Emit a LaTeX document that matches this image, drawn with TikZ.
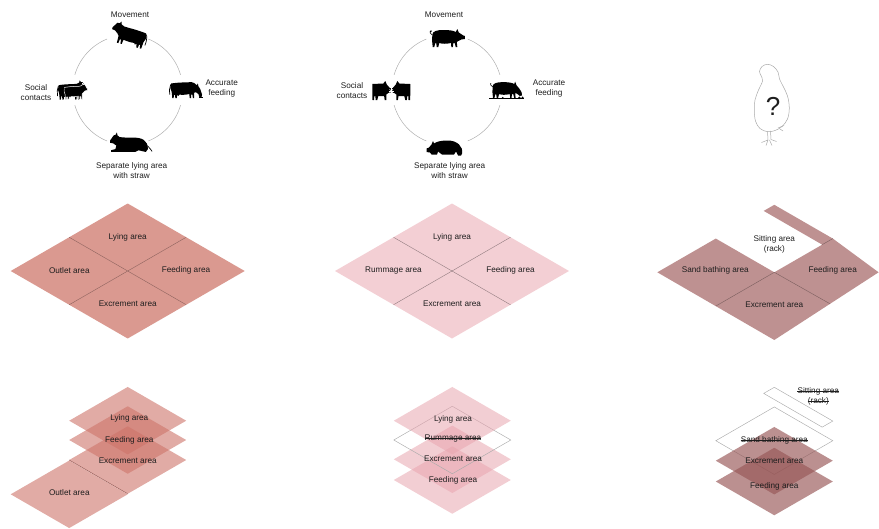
\documentclass[tikz,border=0pt]{standalone}
\usepackage{fontspec}
\setmainfont{Liberation Sans}
\usetikzlibrary{calc}

\definecolor{cowplan}{RGB}{218,153,144}
\definecolor{cowlayer}{RGB}{205,115,105}
\definecolor{pigplan}{RGB}{243,207,212}
\definecolor{piglayer}{RGB}{232,165,175}
\definecolor{henplan}{RGB}{190,145,145}
\definecolor{henlayer}{RGB}{150,85,85}
\definecolor{ink}{RGB}{30,30,30}
\definecolor{ringgray}{RGB}{175,175,175}
\definecolor{outlinegray}{RGB}{170,170,170}

% one quarter tile of the isometric floor plan, centred on (#2,#3)
\newcommand{\isotile}[3]{\path[#1] (#2-58.5,#3) -- (#2,#3-33.75) -- (#2+58.5,#3) -- (#2,#3+33.75) -- cycle;}
% crossed-out label: a line through the named node
\newcommand{\strikenode}[1]{\draw[ink, line width=0.45pt] (#1.west) -- (#1.east);}

% ---- animal silhouettes, drawn around (0,0), y pointing down ----
\newcommand{\cowlegs}{%
  -- (10,10) -- (8.6,10) -- (8,6) -- (6.8,6) -- (6.6,10) -- (5.2,10) -- (4.6,5.5)
  .. controls (0,6.5) and (-4,6.5) .. (-6,6) -- (-7,7.5) -- (-8.5,6.5)
  -- (-9,10) -- (-10.4,10) -- (-11,6.5) -- (-12,6.5) -- (-12.4,10) -- (-13.8,10)
  -- (-14.5,3) -- (-16,-1) -- cycle}
\newcommand{\cowstanding}[1][]{%
  \fill[#1] (-15,-6) .. controls (-5,-7.5) and (2,-7) .. (7,-7.5)
    -- (10,-9) -- (10.5,-11.5) -- (12,-9.5) -- (14,-9.5) -- (17.5,-4) -- (17.5,-2)
    -- (14.5,-1.5) -- (11.5,1) -- (10,3) \cowlegs;
  \draw[line width=0.7] (-15.5,-5) .. controls (-17,-2) and (-17,2) .. (-16.5,6);}
\newcommand{\cowgrazing}[1][]{%
  \fill[#1] (-15,-6) .. controls (-5,-7.5) and (2,-7) .. (7,-7.5)
    -- (10,-6.5) -- (13,-4) -- (14,-6) -- (14.5,-3) -- (16.5,0) -- (18.5,6)
    -- (18,9) -- (15.8,9) -- (14.5,5.5) -- (12,3.5) -- (10,4) \cowlegs;
  \draw[line width=0.7] (-15.5,-5) .. controls (-17,-2) and (-17,2) .. (-16.5,6);
  \fill (15,9) rectangle (20,10);}
\newcommand{\cowlying}{%
  \fill (-18,4) .. controls (-18,-4) and (-12,-6) .. (-4,-6)
    .. controls (2,-6) and (6,-6) .. (9,-6.5) -- (11,-8) -- (11.5,-10.5) -- (13,-8.2)
    -- (14.5,-8) -- (18,-3.5) -- (18,-1.5) -- (15,-1) -- (12,1) -- (13,4) -- (17,5)
    -- (17,6.5) -- (-6,6.5) -- (-9,5) -- (-16,6.5) -- cycle;
  \draw[line width=0.7] (-17.5,1) .. controls (-20,3) and (-21,5) .. (-22,6);}
\newcommand{\pigbody}{%
  (-14,-3) .. controls (-14,-7) and (-9,-8) .. (-3,-8)
  .. controls (3,-8) and (7,-7.5) .. (9.5,-6)}
\newcommand{\piglegs}{%
  -- (11,9) -- (9.4,9) -- (8.4,5) -- (7,5.2) -- (6.6,9) -- (5,9) -- (4.8,5)
  .. controls (0,6) and (-4,6) .. (-7,5) -- (-8,9) -- (-9.6,9) -- (-10,5.5)
  -- (-11,5) -- (-12,9) -- (-13.6,9) -- (-14.2,3) -- cycle}
\newcommand{\pigwalking}{%
  \fill \pigbody -- (11,-9) -- (12.5,-5.5) -- (17,-2.5) -- (18.5,-2) -- (18.5,1)
    -- (15,1.5) -- (12,3) -- (10.5,4) \piglegs;
  \draw[line width=0.6] (-14,-3) .. controls (-16,-4) and (-17,-6) .. (-16,-7)
    .. controls (-15,-8) and (-14,-6.5) .. (-15.5,-6);}
\newcommand{\pigeating}{%
  \fill \pigbody -- (10.5,-8.5) -- (12,-4.5) -- (15,-1) -- (17.5,3) -- (18,6.5)
    -- (15.5,7) -- (12.5,4.5) -- (10.5,4) \piglegs;
  \draw[line width=0.6] (-14,-3) .. controls (-16,-4) and (-17,-6) .. (-16,-7);
  \fill (-18,9) rectangle (20,10.5);
  \fill (15,9) circle (1.4) (18.5,8.8) circle (1.2) (-3,9) circle (1);}
\newcommand{\piglying}{%
  \fill (-17,6) .. controls (-18.5,-1) and (-12,-7) .. (-3,-7)
    .. controls (4,-7) and (8,-6) .. (11,-4) -- (12,-6.5) -- (13.5,-3) -- (16,0)
    -- (18.5,1) -- (18.5,4.5) -- (15,5) -- (13.5,7) -- (8,7) -- (7,4) -- (3,7)
    -- (-9,7) -- (-11,4) -- (-13,8) -- (-16,8) -- cycle;}
\newcommand{\pigfront}{%
  \fill (-19,-7) -- (-8,-7.5) -- (-6,-10) -- (-4.5,-6.5) -- (-1.5,-3) -- (0,-2.5)
    -- (0,1.5) -- (-3,2) -- (-5,3.5) -- (-5,9) -- (-6.6,9) -- (-7.2,5) -- (-13,5)
    -- (-14,9) -- (-15.6,9) -- (-16,5) -- (-17,5) -- (-17.2,9) -- (-18.8,9) -- (-19,3) -- cycle;}

\begin{document}
\begin{tikzpicture}[x=1pt,y=-1pt,
  lbl/.style={font=\fontsize{8.2}{10}\selectfont, text=ink, align=center, inner sep=0pt},
  ring/.style={draw=ringgray, line width=0.5pt},
  seam/.style={line width=0.4pt},
  ghost/.style={draw=outlinegray, line width=0.45pt},
  cowlay/.style={fill=cowlayer, fill opacity=0.6},
  piglay/.style={fill=piglayer, fill opacity=0.55},
  henlay/.style={fill=henlayer, fill opacity=0.65}]
\useasboundingbox (0,0) rectangle (879,528);
\clip (0,0) rectangle (879,528);

% ================= cattle: needs ring =================
\coordinate (cowC) at (127.7,90);
\coordinate (cowMove) at (129.5,35.5);
\coordinate (cowFeed) at (185,89);
\coordinate (cowSoc) at (73.5,91.5);
\coordinate (cowLie) at (129,144.5);
\foreach \a/\b in {16/68,112/164,196/248,292/344}
  \draw[ring] (cowC) ++(\a:55) arc[start angle=\a, end angle=\b, radius=55];
\begin{scope}[shift={(cowMove)}, rotate=-14, xscale=-1.05]
  \cowstanding
\end{scope}
\begin{scope}[shift={(cowFeed)}, scale=0.92]
  \cowgrazing
\end{scope}
\begin{scope}[shift={(cowSoc)}, xscale=0.82, yscale=0.9]
  \begin{scope}[shift={(-3,-1)}] \cowstanding \end{scope}
  \begin{scope}[shift={(2,0.5)}, scale=0.85] \cowstanding[draw=white, line width=0.5] \end{scope}
\end{scope}
\begin{scope}[shift={(cowLie)}, xscale=-1.05, yscale=1.15]
  \cowlying
\end{scope}
\node[lbl] (cowTMove) at (130,15) {Movement};
\node[lbl] (cowTSoc) at (36,92.7) {Social\\contacts};
\node[lbl] (cowTFeed) at (221.7,89) {Accurate\\feeding};
\node[lbl] (cowTLie) at (131.7,170.7) {Separate lying area\\with straw};

% ================= pigs: needs ring =================
\coordinate (pigC) at (447,90);
\coordinate (pigMove) at (446.3,38);
\coordinate (pigFeed) at (505.5,89.5);
\coordinate (pigSoc) at (391.3,91);
\coordinate (pigLie) at (445,147.5);
\foreach \a/\b in {16/68,112/164,196/248,292/344}
  \draw[ring] (pigC) ++(\a:55) arc[start angle=\a, end angle=\b, radius=55];
\begin{scope}[shift={(pigMove)}]
  \pigwalking
\end{scope}
\begin{scope}[shift={(pigFeed)}, scale=0.92]
  \pigeating
\end{scope}
\begin{scope}[shift={(pigSoc)}]
  \pigfront
  \begin{scope}[xscale=-1] \pigfront \end{scope}
  \draw[white, line width=0.9] (0,-2.8) -- (0,2.8) (-2.6,0) -- (2.6,0);
  \draw[white, line width=0.6] (-1.7,-1.7) -- (1.7,1.7) (-1.7,1.7) -- (1.7,-1.7);
\end{scope}
\begin{scope}[shift={(pigLie)}, xscale=-1]
  \piglying
\end{scope}
\node[lbl] (pigTMove) at (444,15) {Movement};
\node[lbl] (pigTSoc) at (352,90.7) {Social\\contacts};
\node[lbl] (pigTFeed) at (549,89) {Accurate\\feeding};
\node[lbl] (pigTLie) at (449.7,170.7) {Separate lying area\\with straw};

% ================= hen: needs unknown =================
\draw[draw=outlinegray, line width=0.5] plot[smooth cycle, tension=0.6] coordinates {
  (759.5,71.5) (762,66.5) (767.5,64.3) (773.5,66.5) (778,72) (779.5,79) (783,86)
  (787.5,96) (789.3,108) (787.5,119) (782,126.5) (775,130.5) (767.7,131.7)
  (760,128.5) (755.5,121) (754.3,110) (755,100) (758.5,90) (762.5,81) (761,75.5)};
\draw[draw=outlinegray, line width=0.5, line cap=round]
  (767.5,131.5) -- (768,140) (770.5,131) -- (771,139.5)
  (768,140) -- (761.5,142.5) (768,140) -- (766,145.5) (769.5,140) -- (772,145.5)
  (771,139.5) -- (776.5,141.5) (778,128) -- (784,125.5) (780,129) -- (783,131);
\node[font=\fontsize{26}{28}\selectfont, text=ink, inner sep=0pt] (henQ) at (773,106) {?};

% ================= floor plans =================
% cattle
\fill[cowplan] (10.7,271) -- (127.7,203.5) -- (244.7,271) -- (127.7,338.5) -- cycle;
\draw[seam, draw=cowplan!65!black] (69.2,237.25) -- (186.2,304.75) (186.2,237.25) -- (69.2,304.75);
\node[lbl] (cowPLie) at (127.7,237.3) {Lying area};
\node[lbl] (cowPOut) at (69.3,270.5) {Outlet area};
\node[lbl] (cowPFeed) at (186,270.5) {Feeding area};
\node[lbl] (cowPExc) at (127.7,304) {Excrement area};
% pigs
\fill[pigplan] (335,271) -- (452,203.5) -- (569,271) -- (452,338.5) -- cycle;
\draw[seam, draw=pigplan!60!black] (393.5,237.25) -- (510.5,304.75) (510.5,237.25) -- (393.5,304.75);
\node[lbl] (pigPLie) at (452,237.3) {Lying area};
\node[lbl] (pigPRum) at (393.5,270.5) {Rummage area};
\node[lbl] (pigPFeed) at (510.5,270.5) {Feeding area};
\node[lbl] (pigPExc) at (452,304) {Excrement area};
% hens
\fill[henplan] (657.3,272.3) -- (715.8,238.55) -- (774.3,272.3) -- (822.2,244.65)
  -- (763.7,210.9) -- (774.3,204.8) -- (832.8,238.55) -- (878.6,272.3)
  -- (774.3,340) -- cycle;
\draw[seam, draw=henplan!65!black] (715.8,306.05) -- (774.3,272.3) -- (830,303.8)
  (822.2,244.65) -- (832.8,238.55);
\node[lbl] (henPSit) at (774.3,244) {Sitting area\\(rack)};
\node[lbl] (henPSand) at (715.3,270.7) {Sand bathing area};
\node[lbl] (henPFeed) at (832.7,270.7) {Feeding area};
\node[lbl] (henPExc) at (774.3,305) {Excrement area};

% ================= stacked layers =================
% cattle
\isotile{cowlay}{69.2}{494.3}
\isotile{cowlay}{127.7}{460}
\draw[seam, draw=cowlayer!70!black] (69.2,460) -- (127.7,493.75);
\isotile{cowlay}{127.7}{440}
\isotile{cowlay}{127.7}{420.7}
\node[lbl] (cowSLie) at (129.3,418.3) {Lying area};
\node[lbl] (cowSFeed) at (129.3,440) {Feeding area};
\node[lbl] (cowSExc) at (127.7,460.7) {Excrement area};
\node[lbl] (cowSOut) at (69.3,492.7) {Outlet area};
% pigs
\isotile{piglay}{452.3}{480}
\isotile{piglay}{452.3}{459.3}
\isotile{ghost}{452.3}{440}
\isotile{piglay}{452.3}{420.7}
\node[lbl] (pigSLie) at (453,419) {Lying area};
\node[lbl] (pigSRum) at (453,438.2) {Rummage area};
\strikenode{pigSRum}
\node[lbl] (pigSExc) at (453,459) {Excrement area};
\node[lbl] (pigSFeed) at (453,480) {Feeding area};
% hens
\draw[ghost] (774.3,387.3) -- (763.7,393.4) -- (822.2,427.15) -- (832.8,421.05) -- cycle;
\isotile{ghost}{774.3}{440.7}
\isotile{henlay}{774.3}{460.7}
\isotile{henlay}{774.3}{481.5}
\node[lbl] (henSSit) at (818.3,391.5) {Sitting area};
\node[lbl] (henSRack) at (818.3,401.5) {(rack)};
\strikenode{henSSit}
\strikenode{henSRack}
\node[lbl] (henSSand) at (774.3,440.3) {Sand bathing area};
\strikenode{henSSand}
\node[lbl] (henSExc) at (774.3,460.3) {Excrement area};
\node[lbl] (henSFeed) at (774.3,486) {Feeding area};
\end{tikzpicture}
\end{document}
